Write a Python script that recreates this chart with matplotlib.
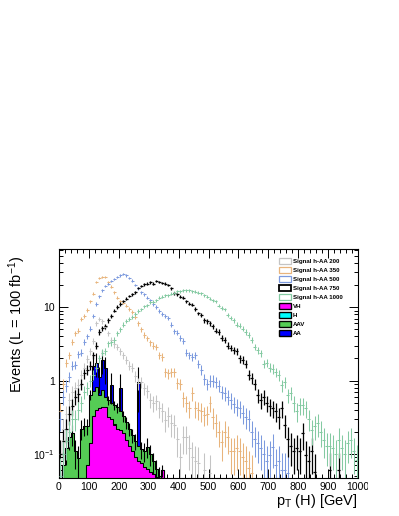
import numpy as np
import matplotlib
matplotlib.use("Agg")
import matplotlib.pyplot as plt
from matplotlib.patches import Patch
from matplotlib.ticker import FixedLocator, MultipleLocator, NullFormatter
from matplotlib.transforms import Bbox

plt.rcParams['font.family'] = ['Liberation Sans', 'DejaVu Sans']
plt.rcParams['mathtext.fontset'] = 'custom'
plt.rcParams['mathtext.rm'] = 'Liberation Sans'
plt.rcParams['mathtext.it'] = 'Liberation Sans:italic'
plt.rcParams['mathtext.bf'] = 'Liberation Sans:bold'

nan = np.nan

# ---------------- data (10 GeV bins, 0..1000 GeV) ----------------
bin_edges = np.linspace(0, 1000, 101)

sig200 = [0.10, 0.22, 0.35, 0.55, 0.70, 0.80, 0.88, 1.2, 1.5, 1.96,
          2.5, 3.5, 6.0, 7.0, 6.4, 5.3, 4.4, 3.6, 3.1, 2.9,
          2.5, 2.2, 1.9, 1.6, 1.5, 1.15, 0.92, 0.95, 0.78, 0.72,
          0.55, 0.50, 0.52, 0.42, 0.38, 0.29, 0.33, 0.26, 0.25, 0.16,
          0.09, 0.17, 0.17, 0.12, 0.092, 0.08, 0.075, nan, 0.06, nan,
          0.055] + [nan] * 49

sig350 = [0.38, 0.9, 1.75, 2.2, 3.4, 4.4, 4.8, 6.9, 7.6, 9.1,
          12, 15.3, 22, 25, 26, 26, 22, 19, 16, 13.5,
          12, 11.5, 10.5, 9.5, 8.5, 7.3, 6.0, 5.0, 4.2, 3.75,
          3.3, 3.0, 2.9, 2.2, 2.1, 1.3, 1.25, 1.3, 1.3, 0.93,
          0.9, 0.57, 0.5, 0.42, 0.67, 0.42, 0.4, 0.38, 0.34, 0.35,
          0.49, 0.32, 0.26, 0.2, 0.147, 0.2, 0.17, 0.11, 0.108, 0.12,
          0.108, 0.09, 0.08, 0.065, 0.055] + [nan] * 35

sig500 = [0.3, 0.6, 0.85, 1.13, 1.6, 1.65, 2.3, 2.4, 3.4, 4.0,
          5.1, 7.5, 11, 14, 17, 19.5, 21, 22.5, 24, 26,
          27, 28, 27, 25, 23, 20, 18, 16, 15, 13.5,
          12.4, 11, 10, 8.8, 8.0, 7.6, 7.2, 5.8, 4.7, 4.5,
          3.8, 3.5, 2.4, 2.2, 2.1, 2.2, 1.7, 1.4, 1.05, 0.9,
          1.0, 1.0, 0.96, 0.85, 0.7, 0.67, 0.6, 0.54, 0.48, 0.44,
          0.42, 0.36, 0.32, 0.3, 0.2, 0.16, 0.14, 0.12, 0.1, 0.08,
          0.097, 0.126, 0.07, 0.08, 0.06, 0.06, 0.055] + [nan] * 23

sig750 = [0.1, 0.15, 0.22, 0.35, 0.45, 0.6, 0.65, 0.9, 1.25, 1.4,
          1.6, 2.2, 3.0, 4.6, 5.2, 5.5, 6.6, 7.6, 9.0, 10.1,
          11, 12, 13, 14.2, 15, 16, 18.3, 19.5, 20.4, 21,
          21.7, 21, 22.5, 22, 21.5, 21, 20, 18, 15.5, 15,
          13.8, 13.5, 12, 11.2, 10.8, 9.5, 8.2, 7.8, 6.6, 6.4,
          6.0, 5.5, 4.8, 4.6, 3.8, 3.6, 3.0, 2.8, 2.6, 2.5,
          2.0, 1.9, 1.7, 1.2, 1.07, 0.9, 0.64, 0.54, 0.6, 0.49,
          0.45, 0.42, 0.38, 0.32, 0.42, 0.25, 0.16, 0.13, 0.11, 0.12,
          0.11, 0.19, 0.097, 0.08, 0.11, 0.057, nan, nan, nan, nan,
          0.06, nan, nan, 0.06, nan, nan, nan, nan, nan, nan]

sig1000 = [0.05, 0.1, 0.15, 0.2, 0.3, 0.3, 0.4, 0.5, 0.7, 0.8,
           1.0, 1.2, 1.5, 2.0, 2.4, 2.5, 3.2, 3.3, 3.6, 4.4,
           5.0, 5.8, 6.5, 7.0, 7.3, 8.0, 8.8, 9.3, 10.3, 10.6,
           11.8, 11.8, 12.5, 13.5, 13.8, 14.5, 14.5, 15.3, 15.8, 16.5,
           16.5, 17, 17, 17, 16.5, 16.3, 15.8, 15.5, 14.5, 13.8,
           13.0, 12.4, 12, 10.5, 9.8, 9.3, 7.8, 7.2, 6.6, 5.8,
           5.6, 5.1, 4.6, 4.2, 3.55, 2.9, 2.6, 2.35, 1.7, 1.75,
           1.5, 1.45, 1.3, 1.19, 0.87, 0.95, 0.64, 0.68, 0.5, 0.38,
           0.46, 0.46, 0.42, 0.3, 0.21, 0.24, 0.26, 0.2, 0.155, 0.13,
           0.13, 0.12, 0.1, 0.155, 0.12, 0.1, 0.14, 0.155, 0.11, 0.083]

bkg_VH = [0, 0, 0, 0, 0, 0, 0, 0, 0.035, 0.07,
          0.14, 0.33, 0.40, 0.42, 0.44, 0.43, 0.32, 0.30, 0.25, 0.22,
          0.21, 0.19, 0.155, 0.13, 0.11, 0.09, 0.08, 0.075, 0.067, 0.062,
          0.057, 0.053, 0.048, 0.04, 0.06] + [0] * 65

bkg_H = [0] * 10 + [0.002] * 11 + [0] * 79

bkg_AAV = [0.03, 0.07, 0.12, 0.17, 0.19, 0.11, 0.088, 0.22, 0.205, 0.17,
           0.50, 0.39, 0.42, 0.22, 0.30, 0.17, 0.22, 0.20, 0.21, 0.21,
           0.17, 0.14, 0.115, 0.09, 0.07, 0.06, 0.05, 0.04, 0.041, 0.064,
           0.043, 0.026, 0.014, 0.01] + [0] * 66

bkg_AA = [0] * 11 + [0.88, 0.93, 0.46, 1.16, 0.9, 0, 0.38, 0, 0,
                     0.42, 0, 0, 0, 0, 0, 0.82] + [0] * 73

# per-event weights used for the statistical error bars
w_sig = 0.03
w_VH, w_H, w_AAV, w_AA = 0.002, 0.002, 0.02, 0.4

signal_labels = ["Signal h-AA 200", "Signal h-AA 350", "Signal h-AA 500",
                 "Signal h-AA 750", "Signal h-AA 1000"]
signal_colors = ["#c4c4c4", "#e8b47c", "#7c9ade", "#000000", "#84caa2"]
signal_values = [sig200, sig350, sig500, sig750, sig1000]

bkg_labels = ["VH", "H", "AAV", "AA"]
bkg_colors = ["#ff00ff", "#00ffff", "#55cc55", "#0000ff"]
bkg_values = [bkg_VH, bkg_H, bkg_AAV, bkg_AA]
bkg_weights = [w_VH, w_H, w_AAV, w_AA]

# ---------------- figure ----------------
W, H = 399, 516
fig = plt.figure(figsize=(W / 100, H / 100), dpi=100)
ax = fig.add_axes([59 / W, 1 - 478 / H, (358 - 59) / W, (478 - 249) / H])
ax.set_yscale('log')

centers = 0.5 * (bin_edges[:-1] + bin_edges[1:])
floor = 1e-3

# stacked backgrounds
cum = np.zeros(100)
cums = []
var = np.zeros(100)
for vals, w in zip(bkg_values, bkg_weights):
    cum = cum + np.array(vals, float)
    var = var + w * np.array(vals, float)
    cums.append(cum.copy())
for c, col in zip(cums[::-1], bkg_colors[::-1]):
    ax.stairs(np.maximum(c, floor), bin_edges, baseline=floor, fill=True,
              facecolor=col, edgecolor='black', linewidth=0.75, zorder=2)
total = cums[-1]
err = np.sqrt(var)
m = total > 0
lo = np.minimum(err[m], total[m] * 0.999)
ax.errorbar(centers[m], total[m], yerr=[lo, err[m]], fmt='none',
            ecolor='black', elinewidth=0.8, capsize=0, zorder=3)

# signals
for vals, col in zip(signal_values, signal_colors):
    v = np.array(vals, float)
    e = np.sqrt(w_sig * np.nan_to_num(v))
    el = np.minimum(e, v * 0.999)
    lw = 0.9 if col == "#000000" else 0.75
    ax.errorbar(centers, v, xerr=5, yerr=[el, e], fmt='o', ms=1.0,
                color=col, ecolor=col, elinewidth=lw, capsize=0,
                markeredgewidth=0, zorder=4)

ax.set_xlim(0, 1000)
ax.set_ylim(0.047, 62)

# ticks
ax.xaxis.set_major_locator(MultipleLocator(100))
ax.xaxis.set_minor_locator(MultipleLocator(20))
ax.yaxis.set_major_locator(FixedLocator([0.1, 1, 10]))
ax.set_yticklabels(["$10^{-1}$", "1", "10"])
minors = [k * d for d in (0.01, 0.1, 1, 10) for k in range(2, 10)]
ax.yaxis.set_minor_locator(FixedLocator(minors))
ax.yaxis.set_minor_formatter(NullFormatter())
ax.tick_params(which='both', direction='in', top=True, right=True,
               labelsize=7.5, width=0.7, colors='black')
ax.tick_params(which='major', length=6.5, pad=3)
ax.tick_params(which='minor', length=3.2)
for s in ax.spines.values():
    s.set_linewidth(0.8)

fig.canvas.draw()
for lab in ax.get_xticklabels():
    if lab.get_text() in ("1000", "$\\mathdefault{1000}$"):
        lab.set_clip_box(Bbox.from_extents(0, 0, 368, H))
        lab.set_clip_on(True)

# axis titles
fig.text(17 / W, 1 - 256 / H, "Events (L = 100 fb$^{-1}$)", rotation=90,
         ha='center', va='top', fontsize=10.5)
fig.text(358 / W, 1 - 501 / H, "p$_{\\mathrm{T}}$ (H) [GeV]", ha='right',
         va='center', fontsize=10.5)

# legend
handles = []
for lab, col in zip(signal_labels, signal_colors):
    lw = 1.3 if col == "#000000" else 0.9
    handles.append(Patch(facecolor='white', edgecolor=col, linewidth=lw, label=lab))
for lab, col in zip(bkg_labels, bkg_colors):
    handles.append(Patch(facecolor=col, edgecolor='black', linewidth=1.0, label=lab))
leg = fig.legend(handles=handles, loc='upper left',
                 bbox_to_anchor=(279 / W, 1 - 258 / H), frameon=False,
                 prop={'size': 4.4, 'weight': 'bold'}, borderpad=0,
                 borderaxespad=0, handlelength=2.0, handleheight=1.15,
                 labelspacing=0.48, handletextpad=0.3)

fig.savefig("out.png", dpi=100)
